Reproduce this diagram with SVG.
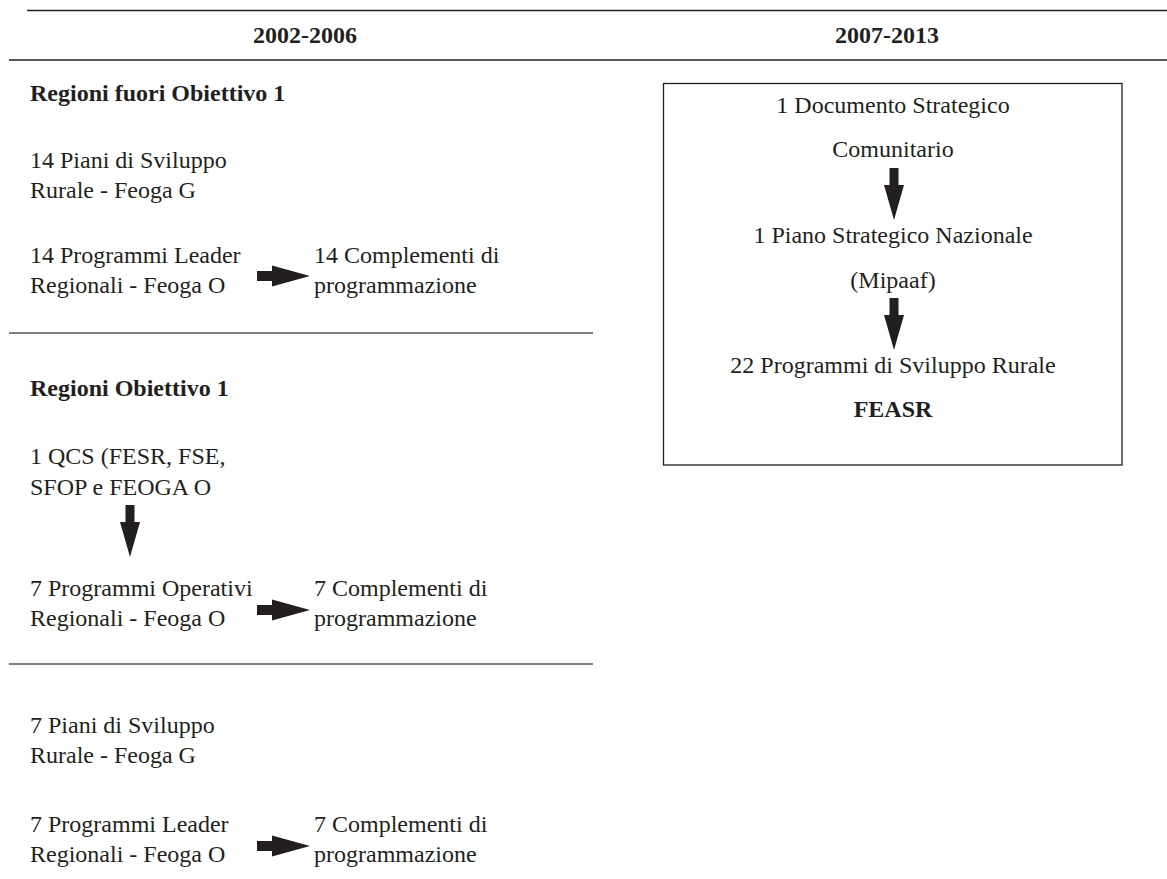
<svg xmlns="http://www.w3.org/2000/svg" width="1167" height="879" viewBox="0 0 1167 879">
<style>
text{font-family:"Liberation Serif","Times New Roman",serif;font-size:24px;fill:#231f20}
.b{font-weight:bold}
.c{text-anchor:middle}
.rule{stroke:#231f20;stroke-width:1.5;fill:none}
.sep{stroke:#555;stroke-width:1.5;fill:none}
.arr{fill:#231f20}
</style>
<defs>
<path id="ah" d="M0,-5 H15 V-10.5 L53,0 L15,10.5 V5 H0 Z"/>
<path id="av" d="M-4.5,0 V17 H-10 L0,52 L10,17 H4.5 V0 Z"/>
</defs>
<rect width="1167" height="879" fill="#fff"/>
<g id="header">
<line class="rule" x1="27" y1="10.5" x2="1167" y2="10.5"/>
<text class="b c" x="305" y="43">2002-2006</text>
<text class="b c" x="887" y="43">2007-2013</text>
<line class="rule" x1="9" y1="60" x2="1167" y2="60"/>
</g>
<g id="sec1">
<text class="b" x="30" y="101">Regioni fuori Obiettivo 1</text>
<g id="n_psr14"><text x="30" y="168">14 Piani di Sviluppo</text><text x="30" y="198">Rurale - Feoga G</text></g>
<g id="n_leader14"><text x="30" y="263">14 Programmi Leader</text><text x="30" y="293">Regionali - Feoga O</text></g>
<g id="n_compl14"><text x="314" y="263">14 Complementi di</text><text x="314" y="293">programmazione</text></g>
<line class="sep" x1="9" y1="333" x2="593" y2="333"/>
</g>
<g id="sec2">
<text class="b" x="30" y="396">Regioni Obiettivo 1</text>
<g id="n_qcs"><text x="30" y="464">1 QCS (FESR, FSE,</text><text x="30" y="495">SFOP e FEOGA O</text></g>
<g id="n_por7"><text x="30" y="596">7 Programmi Operativi</text><text x="30" y="626">Regionali - Feoga O</text></g>
<g id="n_compl7a"><text x="314" y="596">7 Complementi di</text><text x="314" y="626">programmazione</text></g>
<line class="sep" x1="9" y1="664" x2="593" y2="664"/>
</g>
<g id="sec3">
<g id="n_psr7"><text x="30" y="733">7 Piani di Sviluppo</text><text x="30" y="763">Rurale - Feoga G</text></g>
<g id="n_leader7"><text x="30" y="832">7 Programmi Leader</text><text x="30" y="862">Regionali - Feoga O</text></g>
<g id="n_compl7b"><text x="314" y="832">7 Complementi di</text><text x="314" y="862">programmazione</text></g>
</g>
<g id="box2007">
<rect x="663.5" y="83.5" width="458.5" height="381.5" fill="none" stroke="#231f20" stroke-width="1.3"/>
<g id="n_dsc"><text class="c" x="893" y="113">1 Documento Strategico</text><text class="c" x="893" y="157">Comunitario</text></g>
<g id="n_psn"><text class="c" x="893" y="243">1 Piano Strategico Nazionale</text><text class="c" x="893" y="288">(Mipaaf)</text></g>
<g id="n_psr22"><text class="c" x="893" y="373">22 Programmi di Sviluppo Rurale</text><text class="b c" x="893" y="417">FEASR</text></g>
</g>
<g id="connectors" class="arr">
<use href="#ah" x="257" y="276"/>
<use href="#ah" x="257" y="610"/>
<use href="#ah" x="257" y="846"/>
<use href="#av" x="130" y="505"/>
<use href="#av" x="894" y="168"/>
<use href="#av" x="894" y="298"/>
</g>
</svg>
